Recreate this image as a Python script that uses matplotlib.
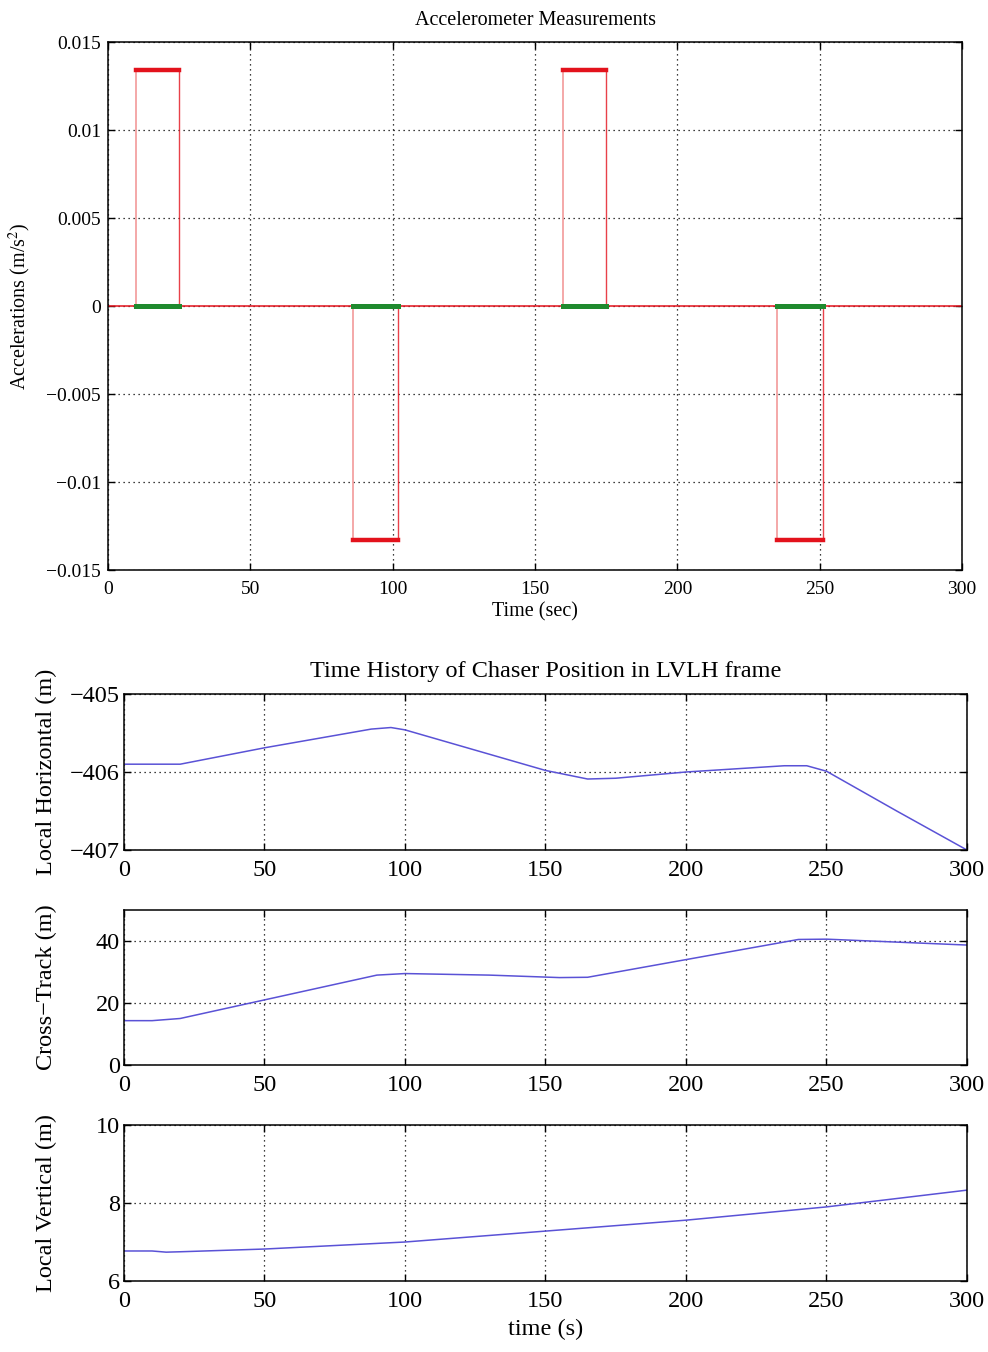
import numpy as np
import matplotlib
matplotlib.use("Agg")
import matplotlib.pyplot as plt

plt.rcParams['font.family'] = ['Liberation Serif', 'DejaVu Serif']
plt.rcParams['mathtext.fontset'] = 'stix'

# accelerometer pulses (s, m/s^2)
pulse_start = [10, 86, 160, 235]
pulse_end = [25, 102, 175, 251]
pulse_amp = [0.0134, -0.0133, 0.0134, -0.0133]
t_end = 300

# chaser position in LVLH frame
t_h = [0, 20, 50, 88, 95, 100, 150, 165, 175, 200, 235, 243, 250, 275, 300]
pos_h = [-405.9, -405.9, -405.69, -405.45, -405.43, -405.46, -405.98, -406.09,
         -406.08, -406.0, -405.92, -405.92, -405.99, -406.5, -407.0]
t_c = [0, 10, 20, 50, 90, 100, 130, 155, 165, 200, 240, 250, 300]
pos_c = [14.3, 14.3, 15.0, 21.0, 29.0, 29.5, 29.0, 28.2, 28.3, 34.0, 40.5, 40.6, 38.7]
t_v = [0, 10, 15, 20, 50, 100, 150, 200, 250, 300]
pos_v = [6.77, 6.77, 6.74, 6.75, 6.82, 7.0, 7.28, 7.56, 7.9, 8.33]

acc_ticks = [-0.015, -0.01, -0.005, 0, 0.005, 0.01, 0.015]
acc_labels = ['\u22120.015', '\u22120.01', '\u22120.005', '0', '0.005', '0.01', '0.015']

RED = '#e3121c'
PINK = '#f29a9a'
GREEN = '#1f8a2e'
BLUE = '#5a52d6'
GRID = dict(color='black', linestyle=(0, (1, 3)), linewidth=0.9)

FS_TOP = 14
FS_BOT = 17.5


def style(ax, fs, pad):
    ax.grid(True, **GRID)
    ax.tick_params(direction='in', top=True, right=True, labelsize=fs,
                   length=5, width=1, pad=pad)
    for s in ax.spines.values():
        s.set_linewidth(1.1)


fig = plt.figure(figsize=(9.88, 13.52), dpi=100)

# ---- accelerometer measurements
ax0 = fig.add_axes([0.1093, 0.5784, 0.8644, 0.3905])
ax0.plot([0, t_end], [0, 0], color=RED, lw=1.1, zorder=2)
for s, e, a in zip(pulse_start, pulse_end, pulse_amp):
    ax0.plot([s, s], [0, a], color=PINK, lw=1.2, zorder=2)
    ax0.plot([e, e], [0, a], color=RED, lw=1.0, alpha=0.8, zorder=2)
    ax0.plot([s, e], [a, a], color=RED, lw=3.2, zorder=3)
    ax0.plot([s, e], [0, 0], color=GREEN, lw=3.6, zorder=3)
ax0.set_xlim(0, t_end)
ax0.set_ylim(-0.015, 0.015)
ax0.set_xticks(np.arange(0, 301, 50))
ax0.set_yticks(acc_ticks)
ax0.set_yticklabels(acc_labels)
style(ax0, FS_TOP, 5)
ax0.tick_params(axis='x', pad=8)
ax0.set_title('Accelerometer Measurements', fontsize=FS_TOP + 0.5, pad=12)
ax0.set_xlabel('Time (sec)', fontsize=FS_TOP + 0.5, labelpad=3)
ax0.set_ylabel('Accelerations (m/s$^2$)', fontsize=FS_TOP + 0.5)
ax0.yaxis.set_label_coords(-0.088, 0.5)

# ---- position histories
ax1 = fig.add_axes([0.1255, 0.3713, 0.8532, 0.1154])
ax2 = fig.add_axes([0.1255, 0.2123, 0.8532, 0.1146])
ax3 = fig.add_axes([0.1255, 0.0525, 0.8532, 0.1154])

ax1.plot(t_h, pos_h, color=BLUE, lw=1.1)
ax1.set_ylim(-407, -405)
ax1.set_yticks([-407, -406, -405])
ax1.set_yticklabels(['\u2212407', '\u2212406', '\u2212405'])
ax1.set_ylabel('Local Horizontal (m)', fontsize=FS_BOT)
ax1.set_title('Time History of Chaser Position in LVLH frame', fontsize=FS_BOT, pad=12)

ax2.plot(t_c, pos_c, color=BLUE, lw=1.1)
ax2.set_ylim(0, 50)
ax2.set_yticks([0, 20, 40])
ax2.set_ylabel('Cross\u2212Track (m)', fontsize=FS_BOT)

ax3.plot(t_v, pos_v, color=BLUE, lw=1.1)
ax3.set_ylim(6, 10)
ax3.set_yticks([6, 8, 10])
ax3.set_ylabel('Local Vertical (m)', fontsize=FS_BOT)
ax3.set_xlabel('time (s)', fontsize=FS_BOT, labelpad=5)

for ax in (ax1, ax2, ax3):
    ax.set_xlim(0, t_end)
    ax.set_xticks(np.arange(0, 301, 50))
    style(ax, FS_BOT, 3)
    ax.tick_params(axis='x', pad=7)
    ax.yaxis.set_label_coords(-0.080, 0.5)

fig.savefig('out.png', dpi=100)
